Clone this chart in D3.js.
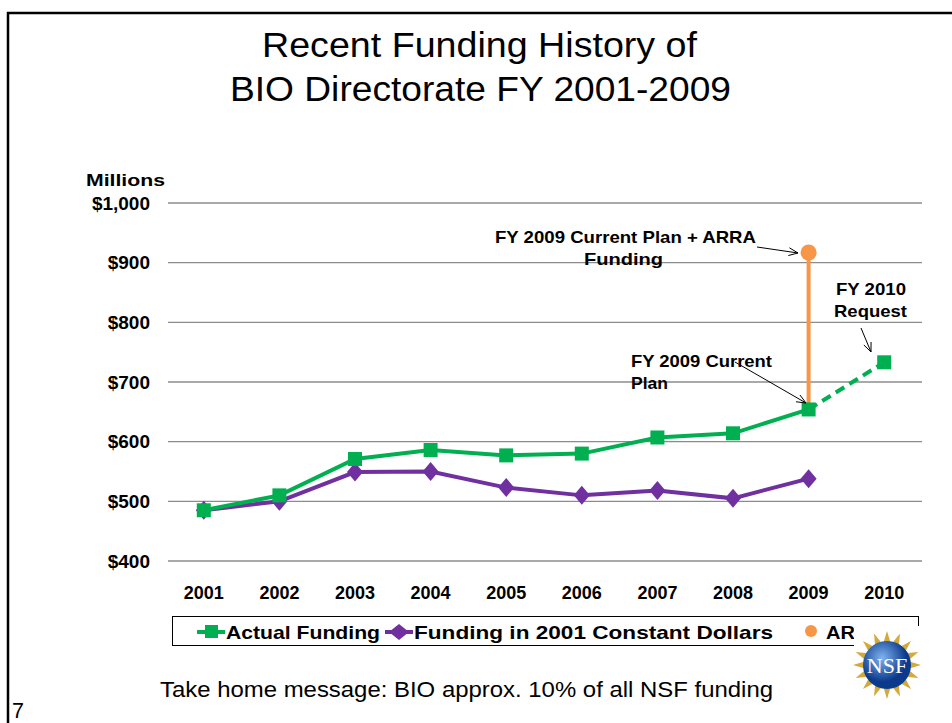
<!DOCTYPE html>
<html>
<head>
<meta charset="utf-8">
<script src="https://cdn.jsdelivr.net/npm/d3@7"></script>
<style>
  body { margin: 0; background: #fff; }
  svg { font-family: Arial, "Liberation Sans", sans-serif; display: block; }
</style>
</head>
<body>
<svg id="chart" width="952" height="723"></svg>
<script>
(function() {

const years = ['2001', '2002', '2003', '2004', '2005', '2006', '2007', '2008', '2009', '2010'];
const actual = [485, 510, 571, 586, 577, 580, 607, 614, 654, 733];
const constant = [485, 500, 549, 550, 523, 510, 518, 505, 538];
const arra = 917;
const yTicks = [400, 500, 600, 700, 800, 900, 1000];

const svg = d3.select('#chart');
const green = '#00B050';
const purple = '#7030A0';
const orange = '#F79646';

// text helper: stretched to the width seen on the slide
const label = (g, s, xx, yy, len, size, bold, anchor) => {
  return g.append('text')
    .attr('x', xx)
    .attr('y', yy)
    .attr('font-size', size)
    .attr('font-weight', bold ? 'bold' : 'normal')
    .attr('text-anchor', anchor || 'start')
    .attr('textLength', len)
    .attr('lengthAdjust', 'spacingAndGlyphs')
    .text(s);
};

// slide frame
svg.append('path')
  .attr('d', 'M8,723 V13 H952')
  .attr('fill', 'none')
  .attr('stroke', '#000')
  .attr('stroke-width', 2.5);

// title
label(svg, 'Recent Funding History of', 479.5, 57, 435, 35, false, 'middle');
label(svg, 'BIO Directorate FY 2001-2009', 480.5, 101, 501, 35, false, 'middle');

const x = d3.scaleBand()
  .domain(years)
  .range([166, 922]);

const y = d3.scaleLinear()
  .domain([400, 1000])
  .range([561, 203]);

const cx = d => x(d) + x.bandwidth() / 2;

// gridlines
svg.append('g')
  .selectAll('line')
  .data(yTicks)
  .enter().append('line')
    .attr('x1', 168)
    .attr('x2', 922)
    .attr('y1', d => y(d))
    .attr('y2', d => y(d))
    .attr('stroke', '#8c8c8c')
    .attr('stroke-width', 1.3);

const fmt = d3.format(',d');
svg.append('g')
  .selectAll('text')
  .data(yTicks)
  .enter().append('text')
    .attr('x', 150)
    .attr('y', d => y(d) + 6.5)
    .attr('text-anchor', 'end')
    .attr('font-size', 19)
    .attr('font-weight', 'bold')
    .text(d => '$' + fmt(d));

label(svg, 'Millions', 86, 186, 79, 16.5, true);

svg.append('g')
  .selectAll('text')
  .data(years)
  .enter().append('text')
    .attr('x', d => cx(d))
    .attr('y', 599)
    .attr('text-anchor', 'middle')
    .attr('font-size', 18)
    .attr('font-weight', 'bold')
    .text(d => d);

const line = d3.line()
  .x(d => cx(d.year))
  .y(d => y(d.value));

const actualData = actual.map((v, i) => ({year: years[i], value: v}));
const constData = constant.map((v, i) => ({year: years[i], value: v}));

const diamond = (w, h) => `M0,${-h}L${w},0L0,${h}L${-w},0Z`;

// ARRA stem
svg.append('line')
  .attr('x1', cx('2009'))
  .attr('x2', cx('2009'))
  .attr('y1', y(actual[8]))
  .attr('y2', y(arra))
  .attr('stroke', orange)
  .attr('stroke-width', 4);
svg.append('circle')
  .attr('cx', cx('2009'))
  .attr('cy', y(arra))
  .attr('r', 8)
  .attr('fill', orange);

// constant dollars
svg.append('path')
  .datum(constData)
  .attr('d', line)
  .attr('fill', 'none')
  .attr('stroke', purple)
  .attr('stroke-width', 4);
svg.append('g')
  .selectAll('path')
  .data(constData)
  .enter().append('path')
    .attr('d', diamond(8, 9.5))
    .attr('transform', d => `translate(${cx(d.year)},${y(d.value)})`)
    .attr('fill', purple);

// actual funding
svg.append('path')
  .datum(actualData.slice(0, 9))
  .attr('d', line)
  .attr('fill', 'none')
  .attr('stroke', green)
  .attr('stroke-width', 4);
svg.append('path')
  .datum(actualData.slice(8))
  .attr('d', line)
  .attr('fill', 'none')
  .attr('stroke', green)
  .attr('stroke-width', 4)
  .attr('stroke-dasharray', '10,6');
svg.append('g')
  .selectAll('rect')
  .data(actualData)
  .enter().append('rect')
    .attr('x', d => cx(d.year) - 7)
    .attr('y', d => y(d.value) - 7)
    .attr('width', 14)
    .attr('height', 14)
    .attr('fill', green);

// annotations
label(svg, 'FY 2009 Current Plan + ARRA', 625.5, 243, 261, 17, true, 'middle');
label(svg, 'Funding', 623.5, 265, 79, 17, true, 'middle');
label(svg, 'FY 2010', 871, 295, 70, 17, true, 'middle');
label(svg, 'Request', 870.5, 317, 73, 17, true, 'middle');
label(svg, 'FY 2009 Current', 631, 367, 141, 17, true);
label(svg, 'Plan', 631, 389, 37, 17, true);

const arrow = (x1, y1, x2, y2) => {
  const a = Math.atan2(y2 - y1, x2 - x1);
  const h = 10, w = 0.4;
  svg.append('path')
    .attr('d', `M${x1},${y1} L${x2},${y2} M${x2 - h * Math.cos(a - w)},${y2 - h * Math.sin(a - w)} L${x2},${y2} L${x2 - h * Math.cos(a + w)},${y2 - h * Math.sin(a + w)}`)
    .attr('fill', 'none')
    .attr('stroke', '#000')
    .attr('stroke-width', 1);
};
arrow(757, 247, 798, 253);
arrow(861, 328, 871, 352);
arrow(735, 362, 806, 403);

// legend
svg.append('rect')
  .attr('x', 172.5)
  .attr('y', 616.5)
  .attr('width', 746)
  .attr('height', 29)
  .attr('fill', '#fff')
  .attr('stroke', '#000')
  .attr('stroke-width', 1);

const lg = svg.append('g');
lg.append('line').attr('x1', 197).attr('x2', 225).attr('y1', 632).attr('y2', 632)
  .attr('stroke', green).attr('stroke-width', 4);
lg.append('rect').attr('x', 205).attr('y', 625).attr('width', 13).attr('height', 13).attr('fill', green);
label(lg, 'Actual Funding', 226, 639, 154, 18.5, true);
lg.append('line').attr('x1', 385).attr('x2', 413).attr('y1', 632).attr('y2', 632)
  .attr('stroke', purple).attr('stroke-width', 4);
lg.append('path')
  .attr('d', diamond(10, 8))
  .attr('transform', 'translate(399,632)')
  .attr('fill', purple);
label(lg, 'Funding in 2001 Constant Dollars', 414, 639, 359, 18.5, true);
lg.append('circle').attr('cx', 811).attr('cy', 631).attr('r', 6).attr('fill', orange);
label(lg, 'ARRA', 826, 639, 58, 18.5, true);

// NSF logo (simplified)
const logo = svg.append('g');
logo.append('rect').attr('x', 854).attr('y', 626).attr('width', 66).attr('height', 82).attr('fill', '#fff');
const rays = d3.range(16).map(i => i * Math.PI * 2 / 16);
logo.append('g')
  .selectAll('path')
  .data(rays)
  .enter().append('path')
    .attr('d', a => {
      const c = [887, 665];
      const p = (r, da) => [c[0] + r * Math.cos(a + da), c[1] + r * Math.sin(a + da)];
      const t = p(34, 0), l = p(22, -0.17), r = p(22, 0.17);
      return `M${l}L${t}L${r}Z`;
    })
    .attr('fill', '#d4a93a');
const grad = svg.append('defs').append('radialGradient').attr('id', 'nsfgrad')
  .attr('cx', '40%').attr('cy', '35%');
grad.append('stop').attr('offset', '0%').attr('stop-color', '#7fb3f0');
grad.append('stop').attr('offset', '100%').attr('stop-color', '#0b3a8c');
logo.append('circle').attr('cx', 887).attr('cy', 665).attr('r', 24).attr('fill', 'url(#nsfgrad)');
logo.append('text')
  .attr('x', 887).attr('y', 673)
  .attr('text-anchor', 'middle')
  .attr('font-family', '"Liberation Serif", serif')
  .attr('font-size', 22)
  .attr('fill', '#fff')
  .text('NSF');

// footer
label(svg, 'Take home message: BIO approx. 10% of all NSF funding', 160, 697, 613, 21.5, false);
label(svg, '7', 12, 718, 12, 22, false);

})();
</script>
</body>
</html>
